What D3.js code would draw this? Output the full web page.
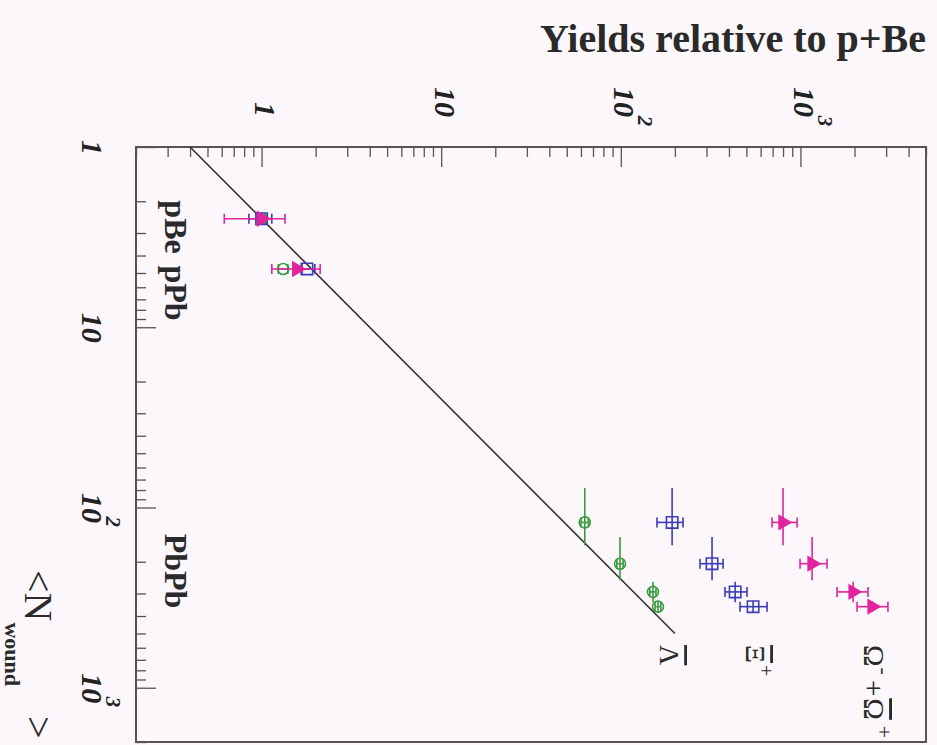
<!DOCTYPE html>
<html>
<head>
<meta charset="utf-8">
<script src="https://cdn.jsdelivr.net/npm/d3@7"></script>
<style>
  body { margin: 0; background: #fbf7fb; }
  svg { display: block; }
</style>
</head>
<body>
<svg width="937" height="745"></svg>
<script>
// WA97-style strangeness enhancement, drawn rotated 90 deg clockwise
const systems = ['pBe', 'pPb', 'PbPb']
const nWound = [2.5, 4.75, 121, 205, 294, 355]
const nWoundLo = [2.5, 4.75, 78, 146, 258, 330]
const nWoundHi = [2.5, 4.75, 162, 253, 335, 380]

const lambdaYield = [1, 1.32, 63, 99, 151, 161]
const lambdaLo = [0.96, 1.24, 60, 95, 145, 155]
const lambdaHi = [1.04, 1.40, 66, 103, 157, 167]

const xiYield = [1, 1.79, 193, 322, 433, 545]
const xiLo = [0.85, 1.68, 159, 276, 380, 461]
const xiHi = [1.14, 1.98, 222, 371, 504, 652]

const omegaYield = [1, 1.57, 800, 1161, 1965, 2506]
const omegaLo = [0.62, 1.14, 695, 995, 1599, 2066]
const omegaHi = [1.35, 2.12, 958, 1406, 2378, 3070]

// wounded-nucleon scaling line, yield = N / 2.5
const lineN = [1, 500]
const lineYield = [0.4, 200]

const majorTicks = [1, 10, 100, 1000]
const tickLabels = ['1', '10', '10^2', '10^3']

const svg = d3.select('svg')
const width = +svg.attr('width')
const height = +svg.attr('height')

const frameL = 136, frameR = 926, frameT = 147, frameB = 742
const font = "'Liberation Serif', 'Times New Roman', serif"
const axisCol = '#555'

// yield runs across, N_wound runs down
const yScale = d3.scaleLog().domain([0.2, 5000]).range([frameL, frameR])
const nScale = d3.scaleLog().domain([1, 2000]).range([frameT, frameB])

svg.append('rect')
    .attr('width', width).attr('height', height)
    .style('fill', '#fbf7fb')

const minorY = yScale.ticks().filter(d => !majorTicks.includes(d))
const minorN = nScale.ticks().filter(d => !majorTicks.includes(d))

// top axis (yield), ticks point into the frame
const topAxisMinor = svg.append('g')
    .attr('transform', `translate(0,${frameT})`)
    .call(d3.axisTop(yScale).tickValues(minorY).tickSize(-10).tickFormat(''))
const topAxis = svg.append('g')
    .attr('transform', `translate(0,${frameT})`)
    .call(d3.axisTop(yScale).tickValues(majorTicks).tickSize(-20).tickFormat(''))

const leftAxisMinor = svg.append('g')
    .attr('transform', `translate(${frameL},0)`)
    .call(d3.axisLeft(nScale).tickValues(minorN).tickSize(-10).tickFormat(''))
const leftAxis = svg.append('g')
    .attr('transform', `translate(${frameL},0)`)
    .call(d3.axisLeft(nScale).tickValues(majorTicks).tickSize(-20).tickFormat(''))

svg.selectAll('.domain').remove()
svg.selectAll('.tick line').style('stroke', axisCol).style('stroke-width', 1.3)

svg.append('rect')
    .attr('x', frameL).attr('y', frameT)
    .attr('width', frameR - frameL).attr('height', frameB - frameT)
    .style('fill', 'none').style('stroke', axisCol).style('stroke-width', 2)

// rotated tick labels, "10^2" -> 10 with superscript
function addLabel(g, label, anchor) {
    const parts = label.split('^')
    const base = g.append('text')
        .text(parts[0])
        .attr('text-anchor', anchor)
        .style('font-family', font).style('font-weight', 'bold').style('font-style', 'italic')
        .style('font-size', '30px').style('fill', '#222')
    if (parts[1]) {
        const w = base.node().getComputedTextLength()
        const x0 = anchor === 'middle' ? w / 2 : 0
        g.append('text')
            .text(parts[1])
            .attr('x', x0 + 4).attr('y', -24)
            .style('font-family', font).style('font-weight', 'bold').style('font-style', 'italic')
            .style('font-size', '21px').style('fill', '#222')
    }
}

topAxis.selectAll('.tick').each(function (d, i) {
    const g = d3.select(this).append('g')
        .attr('transform', `translate(-7,-30) rotate(90)`)
    addLabel(g, tickLabels[i], 'end')
})
leftAxis.selectAll('.tick').each(function (d, i) {
    const g = d3.select(this).append('g')
        .attr('transform', `translate(-54,0) rotate(90)`)
    addLabel(g, tickLabels[i], 'middle')
})

// axis titles
svg.append('text')
    .attr('x', frameR).attr('y', 52)
    .attr('text-anchor', 'end')
    .style('font-family', font).style('font-weight', 'bold')
    .style('font-size', '40px').style('fill', '#2a2a2a')
    .text('Yields relative to p+Be')

const nTitle = svg.append('text')
    .attr('transform', `translate(25,570) rotate(90)`)
    .style('font-family', font).style('fill', '#2a2a2a')
nTitle.append('tspan').text('<N').style('font-size', '40px')
nTitle.append('tspan').text('wound').attr('dy', 20).attr('dx', 1)
    .style('font-size', '22px').style('font-weight', 'bold')
nTitle.append('tspan').text('>').attr('dy', -20).attr('dx', 30).style('font-size', '40px')

// collision system labels
const sysN = [2.78, 6.46, 225]
systems.forEach((s, i) => {
    svg.append('text')
        .attr('transform', `translate(165,${nScale(sysN[i])}) rotate(90)`)
        .attr('text-anchor', 'middle')
        .style('font-family', font).style('font-weight', 'bold')
        .style('font-size', '32px').style('fill', '#2a2a2a')
        .text(s)
})

// scaling line
svg.append('line')
    .attr('x1', yScale(lineYield[0])).attr('y1', nScale(lineN[0]))
    .attr('x2', yScale(lineYield[1])).attr('y2', nScale(lineN[1]))
    .style('stroke', '#333').style('stroke-width', 1.6)

const series = [
    { name: 'lambda', vals: lambdaYield, lo: lambdaLo, hi: lambdaHi, color: '#3a9a40', shape: 'circle' },
    { name: 'xi', vals: xiYield, lo: xiLo, hi: xiHi, color: '#3c3cb8', shape: 'square' },
    { name: 'omega', vals: omegaYield, lo: omegaLo, hi: omegaHi, color: '#e2239e', shape: 'triangle' }
]

series.forEach(s => {
    const g = svg.append('g').style('stroke', s.color).style('stroke-width', 1.6)
    const pts = s.vals.map((v, i) => ({ v, lo: s.lo[i], hi: s.hi[i], n: nWound[i], nlo: nWoundLo[i], nhi: nWoundHi[i] }))
    // yield errors (horizontal) with caps
    g.selectAll('.ey').data(pts).join('line')
        .attr('x1', d => yScale(d.lo)).attr('x2', d => yScale(d.hi))
        .attr('y1', d => nScale(d.n)).attr('y2', d => nScale(d.n))
    g.selectAll('.cap').data(pts.flatMap(d => [{ x: d.lo, n: d.n }, { x: d.hi, n: d.n }])).join('line')
        .attr('x1', d => yScale(d.x)).attr('x2', d => yScale(d.x))
        .attr('y1', d => nScale(d.n) - 5).attr('y2', d => nScale(d.n) + 5)
    // N_wound errors (vertical)
    g.selectAll('.en').data(pts.filter(d => d.nhi > d.nlo)).join('line')
        .attr('x1', d => yScale(d.v)).attr('x2', d => yScale(d.v))
        .attr('y1', d => nScale(d.nlo)).attr('y2', d => nScale(d.nhi))
    // markers
    const sym = s.shape === 'circle' ? d3.symbolCircle : s.shape === 'square' ? d3.symbolSquare : d3.symbolTriangle
    const size = s.shape === 'circle' ? 95 : s.shape === 'square' ? 130 : 80
    g.selectAll('.m').data(pts).join('path')
        .attr('d', d3.symbol().type(sym).size(size))
        .attr('transform', d => `translate(${yScale(d.v)},${nScale(d.n)}) rotate(${s.shape === 'triangle' ? 90 : 0})`)
        .style('fill', s.shape === 'triangle' ? s.color : 'none')
})

// species labels, rotated like the rest
function speciesLabel(x, y, size) {
    return svg.append('text')
        .attr('transform', `translate(${x},${y}) rotate(90)`)
        .style('font-family', font).style('font-size', size + 'px').style('fill', '#2a2a2a')
}
speciesLabel(660, 645, 28).append('tspan').text('Λ').style('text-decoration', 'overline')
const xiLab = speciesLabel(746, 645, 28)
xiLab.append('tspan').text('Ξ').style('text-decoration', 'overline')
xiLab.append('tspan').text('+').attr('dx', 2).attr('dy', -13).style('font-size', '20px')
const omLab = speciesLabel(864, 645, 29)
omLab.append('tspan').text('Ω')
omLab.append('tspan').text('-').attr('dx', 1).attr('dy', -13).style('font-size', '22px')
omLab.append('tspan').text('+').attr('dx', 5).attr('dy', 13)
omLab.append('tspan').text('Ω').attr('dx', 2).style('text-decoration', 'overline')
omLab.append('tspan').text('+').attr('dx', 6).attr('dy', -13).style('font-size', '22px')
</script>
</body>
</html>
